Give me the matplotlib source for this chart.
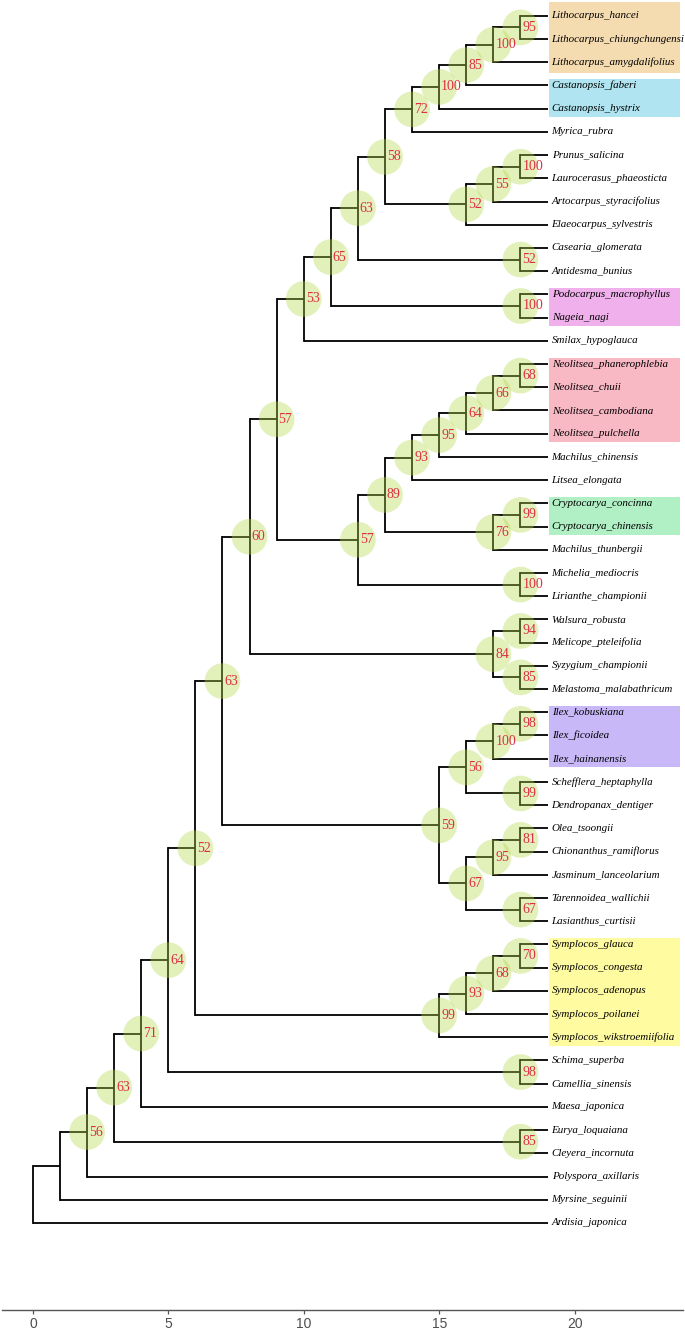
import matplotlib
matplotlib.use("Agg")
import matplotlib.pyplot as plt
from matplotlib.patches import Rectangle

# tree in newick form, internal labels are bootstrap values
newick = (
    "(((((((((((((((((((Lithocarpus_hancei,Lithocarpus_chiungchungensi)95,"
    "Lithocarpus_amygdalifolius)100,Castanopsis_faberi)85,Castanopsis_hystrix)100,"
    "Myrica_rubra)72,"
    "(((Prunus_salicina,Laurocerasus_phaeosticta)100,Artocarpus_styracifolius)55,"
    "Elaeocarpus_sylvestris)52)58,"
    "(Casearia_glomerata,Antidesma_bunius)52)63,"
    "(Podocarpus_macrophyllus,Nageia_nagi)100)65,"
    "Smilax_hypoglauca)53,"
    "(((((((Neolitsea_phanerophlebia,Neolitsea_chuii)68,Neolitsea_cambodiana)66,"
    "Neolitsea_pulchella)64,Machilus_chinensis)95,Litsea_elongata)93,"
    "((Cryptocarya_concinna,Cryptocarya_chinensis)99,Machilus_thunbergii)76)89,"
    "(Michelia_mediocris,Lirianthe_championii)100)57)57,"
    "((Walsura_robusta,Melicope_pteleifolia)94,"
    "(Syzygium_championii,Melastoma_malabathricum)85)84)60,"
    "((((Ilex_kobuskiana,Ilex_ficoidea)98,Ilex_hainanensis)100,"
    "(Schefflera_heptaphylla,Dendropanax_dentiger)99)56,"
    "(((Olea_tsoongii,Chionanthus_ramiflorus)81,Jasminum_lanceolarium)95,"
    "(Tarennoidea_wallichii,Lasianthus_curtisii)67)67)59)63,"
    "((((Symplocos_glauca,Symplocos_congesta)70,Symplocos_adenopus)68,"
    "Symplocos_poilanei)93,Symplocos_wikstroemiifolia)99)52,"
    "(Schima_superba,Camellia_sinensis)98)64,"
    "Maesa_japonica)71,"
    "(Eurya_loquaiana,Cleyera_incornuta)85)63,"
    "Polyspora_axillaris)56,"
    "Myrsine_seguinii),"
    "Ardisia_japonica);"
)

# highlighted clades: first tip, last tip, colour
hl_first = ["Lithocarpus_hancei", "Castanopsis_faberi", "Podocarpus_macrophyllus",
            "Neolitsea_phanerophlebia", "Cryptocarya_concinna", "Ilex_kobuskiana",
            "Symplocos_glauca"]
hl_last = ["Lithocarpus_amygdalifolius", "Castanopsis_hystrix", "Nageia_nagi",
           "Neolitsea_pulchella", "Cryptocarya_chinensis", "Ilex_hainanensis",
           "Symplocos_wikstroemiifolia"]
hl_colors = ["#f5dcb0", "#b0e4f0", "#f0b0ec", "#f8b8c4", "#b0f0c4", "#c8b8f8", "#fffba0"]


def parse(s):
    pos = 0

    def node():
        nonlocal pos
        kids = []
        if s[pos] == "(":
            pos += 1
            kids.append(node())
            while s[pos] == ",":
                pos += 1
                kids.append(node())
            pos += 1  # ')'
        start = pos
        while s[pos] not in ",();":
            pos += 1
        return {"name": s[start:pos], "kids": kids}

    return node()


root = parse(newick)

tips = []


def collect(n):
    if not n["kids"]:
        tips.append(n)
    for k in n["kids"]:
        collect(k)


collect(root)
ntip = len(tips)
for i, t in enumerate(tips):
    t["y"] = ntip - i


def height(n):
    n["h"] = 0 if not n["kids"] else 1 + max(height(k) for k in n["kids"])
    return n["h"]


maxh = height(root)


def place(n):
    n["x"] = maxh - n["h"]
    if n["kids"]:
        for k in n["kids"]:
            place(k)
        n["y"] = sum(k["y"] for k in n["kids"]) / len(n["kids"])


place(root)

fig = plt.figure(figsize=(6.85, 13.29), dpi=100)
ax = fig.add_axes([2 / 685, 19 / 1329, 681 / 685, 1310 / 1329])

tip_y = {t["name"]: t["y"] for t in tips}
for i in range(len(hl_first)):
    y_hi = tip_y[hl_first[i]] + (0.6 if i == 0 else 0.28)
    y_lo = tip_y[hl_last[i]] - (0.46 if i == 0 else 0.36)
    ax.add_patch(Rectangle((maxh + 0.05, y_lo), 4.85, y_hi - y_lo,
                           facecolor=hl_colors[i], edgecolor="none", zorder=0))

lw = 1.3


def draw(n):
    if not n["kids"]:
        ax.text(n["x"] + 0.15, n["y"], n["name"], ha="left", va="center",
                fontsize=7.9, style="italic", family="Liberation Serif", zorder=5)
        return
    ys = [k["y"] for k in n["kids"]]
    ax.plot([n["x"], n["x"]], [min(ys), max(ys)], color="black", lw=lw,
            solid_capstyle="projecting", zorder=2)
    for k in n["kids"]:
        ax.plot([n["x"], k["x"]], [k["y"], k["y"]], color="black", lw=lw,
                solid_capstyle="butt", zorder=2)
        draw(k)
    if n["name"]:
        ax.scatter(n["x"], n["y"], s=660, color="#b5d84a", alpha=0.38,
                   edgecolors="none", zorder=3)
        ax.text(n["x"] + 0.07, n["y"], n["name"], ha="left", va="center",
                fontsize=10, color="#dc2f45", family="Liberation Serif", zorder=4)


draw(root)

ax.set_xlim(-1.14, 24.0)
ax.set_ylim(-2.75, 53.68)
for side in ["left", "right", "top"]:
    ax.spines[side].set_visible(False)
ax.spines["bottom"].set_color("#555555")
ax.spines["bottom"].set_linewidth(1.0)
ax.set_yticks([])
ax.set_xticks([0, 5, 10, 15, 20])
ax.tick_params(axis="x", length=3, width=0.9, color="#555555", labelcolor="#4d4d4d",
               labelsize=10, pad=2)
for lab in ax.get_xticklabels():
    lab.set_family("Liberation Sans")

fig.savefig("out.png", dpi=100)
